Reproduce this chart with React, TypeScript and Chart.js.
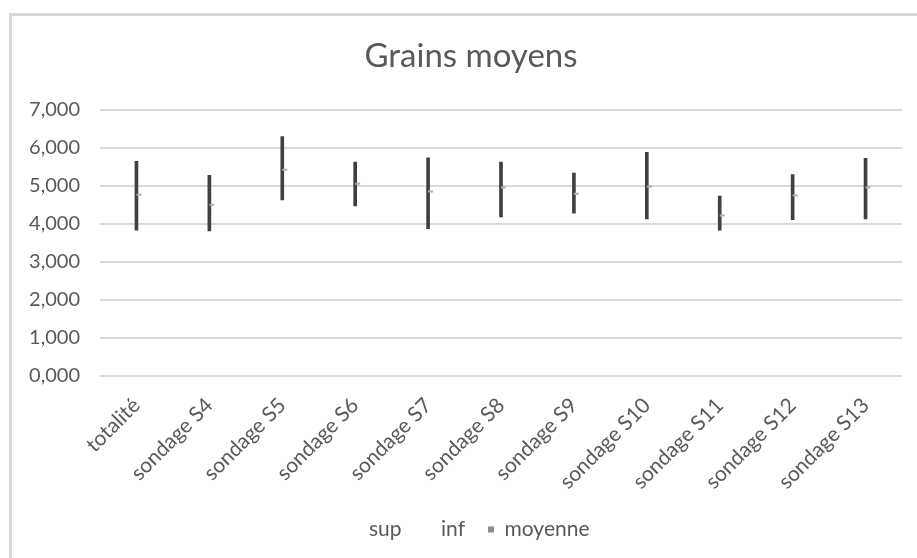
import React, { useEffect, useRef } from "react";
import Chart from "chart.js/auto";

const categories = [
  "totalité",
  "sondage S4",
  "sondage S5",
  "sondage S6",
  "sondage S7",
  "sondage S8",
  "sondage S9",
  "sondage S10",
  "sondage S11",
  "sondage S12",
  "sondage S13",
];
const sup = [5.64, 5.27, 6.29, 5.62, 5.73, 5.62, 5.33, 5.88, 4.73, 5.29, 5.72];
const inf = [3.83, 3.81, 4.63, 4.47, 3.87, 4.18, 4.28, 4.13, 3.83, 4.11, 4.13];
const moyenne = [4.76, 4.5, 5.42, 5.05, 4.85, 4.95, 4.79, 4.98, 4.22, 4.74, 4.95];
const yTicks = [0, 1, 2, 3, 4, 5, 6, 7];

const FONT = "Lato";
const TEXT = "#595959";

export default function App() {
  const ref = useRef<HTMLCanvasElement | null>(null);

  useEffect(() => {
    document.body.style.margin = "0";
    const canvas = ref.current!;
    const chart = new Chart(canvas, {
      type: "bar",
      data: {
        labels: categories,
        datasets: [
          {
            type: "line",
            label: "sup",
            data: sup,
            showLine: false,
            pointRadius: 0,
            borderColor: "#404040",
            backgroundColor: "#404040",
          },
          {
            type: "line",
            label: "inf",
            data: inf,
            showLine: false,
            pointRadius: 0,
            borderColor: "#404040",
            backgroundColor: "#404040",
          },
          {
            type: "line",
            label: "moyenne",
            data: moyenne,
            showLine: false,
            pointStyle: "dash",
            pointRadius: 5,
            pointBorderWidth: 2,
            borderColor: "#b0b0b0",
            backgroundColor: "#b0b0b0",
          },
          {
            type: "bar",
            label: "range",
            data: categories.map((_, i) => [inf[i], sup[i]]),
            backgroundColor: "#404040",
            barThickness: 3,
          } as any,
        ],
      },
      options: {
        animation: false,
        responsive: false,
        maintainAspectRatio: false,
        layout: { padding: { left: 0, right: 0, top: 0, bottom: 8 } },
        plugins: {
          tooltip: { enabled: false },
          title: {
            display: true,
            text: "Grains moyens",
            color: TEXT,
            font: { family: FONT, size: 33, weight: "normal" },
            padding: { top: 37, bottom: 33 },
          },
          legend: {
            position: "bottom",
            labels: {
              color: TEXT,
              font: { family: FONT, size: 21 },
              usePointStyle: true,
              boxWidth: 6,
              boxHeight: 6,
              padding: 23,
              filter: (item: any) => item.datasetIndex !== 3,
              generateLabels: (c: any) => {
                const items = (Chart as any).defaults.plugins.legend.labels.generateLabels(c);
                return items.map((it: any) => {
                  if (it.datasetIndex === 0 || it.datasetIndex === 1) {
                    return { ...it, fillStyle: "rgba(0,0,0,0)", strokeStyle: "rgba(0,0,0,0)", lineWidth: 0, pointStyle: "rect" };
                  }
                  if (it.datasetIndex === 2) {
                    return { ...it, fillStyle: "#8c8c8c", strokeStyle: "#8c8c8c", lineWidth: 0, pointStyle: "rect" };
                  }
                  return it;
                });
              },
            },
          },
        },
        scales: {
          x: {
            grid: { display: false },
            border: { display: false },
            ticks: {
              color: TEXT,
              font: { family: FONT, size: 21 },
              minRotation: 45,
              maxRotation: 45,
              autoSkip: false,
              padding: 9,
            },
            afterFit: (s: any) => {
              s.height = 120;
            },
          },
          y: {
            min: 0,
            max: 7,
            afterBuildTicks: (s: any) => {
              s.ticks = yTicks.map((v) => ({ value: v }));
            },
            grid: { color: "#d9d9d9", lineWidth: 2, drawTicks: false },
            border: { display: false },
            ticks: {
              color: TEXT,
              font: { family: FONT, size: 20 },
              padding: 20,
              callback: (v: any) => Number(v).toFixed(3).replace(".", ","),
            },
            afterFit: (s: any) => {
              s.width = 100;
            },
          },
          yRight: {
            position: "right",
            display: true,
            min: 0,
            max: 7,
            grid: { display: false, drawTicks: false },
            border: { display: false },
            ticks: { display: false },
            afterFit: (s: any) => {
              s.width = 40;
            },
          },
        },
      },
    });
    return () => chart.destroy();
  }, []);

  return (
    <div style={{ position: "relative", width: 917, height: 558, overflow: "hidden", background: "#fff" }}>
      <div
        style={{
          position: "absolute",
          left: 9,
          top: 13,
          width: 940,
          height: 580,
          border: "3px solid #d9d9d9",
          boxSizing: "border-box",
        }}
      />
      <canvas ref={ref} width={942} height={558} style={{ position: "absolute", left: 0, top: 0 }} />
    </div>
  );
}
